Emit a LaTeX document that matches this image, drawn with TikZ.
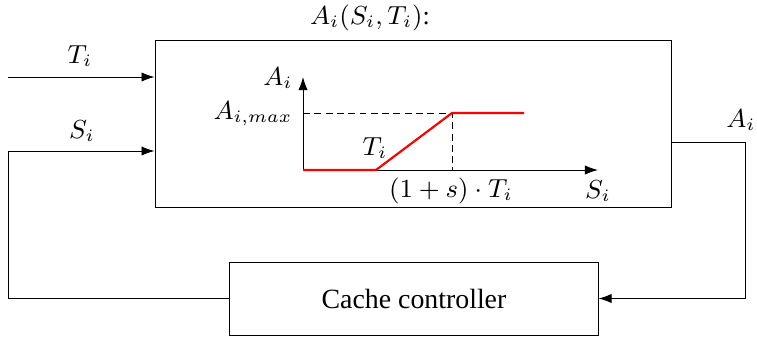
\documentclass[tikz,border=0pt]{standalone}
\usepackage[no-math]{fontspec}
\setmainfont{Liberation Serif}
\usetikzlibrary{arrows.meta}
\begin{document}
\begin{tikzpicture}[x=0.345pt,y=-0.345pt,
  >={Latex[length=4.5pt,width=3.2pt]},
  line width=0.33pt,
  every node/.style={inner sep=0pt, font=\fontsize{9}{11}\selectfont},
  ctext/.style={font=\fontsize{9.6}{11}\selectfont},
  conn/.style={->},
  curve/.style={red, line width=0.75pt},
  guide/.style={dash pattern=on 2.4pt off 1.5pt}]
\useasboundingbox (0,0) rectangle (757,339);
% blocks
\node[draw, minimum width=178pt, minimum height=57.3pt] (sys) at (413,124) {};
\node[draw, minimum width=127pt, minimum height=25.2pt] (cc) at (414,298.5) {};
\node[ctext] at (cc.center) {Cache controller};
\node (title) at (370,18) {$A_i(S_i,T_i)$:};
% inputs
\coordinate (tin) at (8,77);
\draw[conn] (tin) -- (tin -| sys.west);
\node (tlab) at (80,56) {$T_i$};
\coordinate (sl) at (8,151);
\draw[conn] (cc.west) -| (sl) -- (sl -| sys.west);
\node (slab) at (82,131) {$S_i$};
% output
\coordinate (ar) at (745,142);
\draw[conn] (sys.east |- ar) -- (ar) |- (cc.east);
\node (alab) at (741,120) {$A_i$};
% inner graph
\coordinate (O) at (303,170);
\coordinate (ytip) at (303,77);
\coordinate (xtip) at (598,170);
\coordinate (k1) at (376,170);
\coordinate (k2) at (452,113);
\coordinate (k3) at (524,113);
\draw[conn] (O) -- (ytip);
\draw[conn] (O) -- (xtip);
\draw[guide] (O |- k2) -- (k2) -- (k2 |- O);
\draw[curve] (O) -- (k1) -- (k2) -- (k3);
\node (yl) at (278,78) {$A_i$};
\node (ml) at (253,114) {$A_{i,max}$};
\node (tl) at (375,148) {$T_i$};
\node (sx) at (451,191) {$(1+s)\cdot T_i$};
\node (xl) at (598,191) {$S_i$};
\end{tikzpicture}
\end{document}
